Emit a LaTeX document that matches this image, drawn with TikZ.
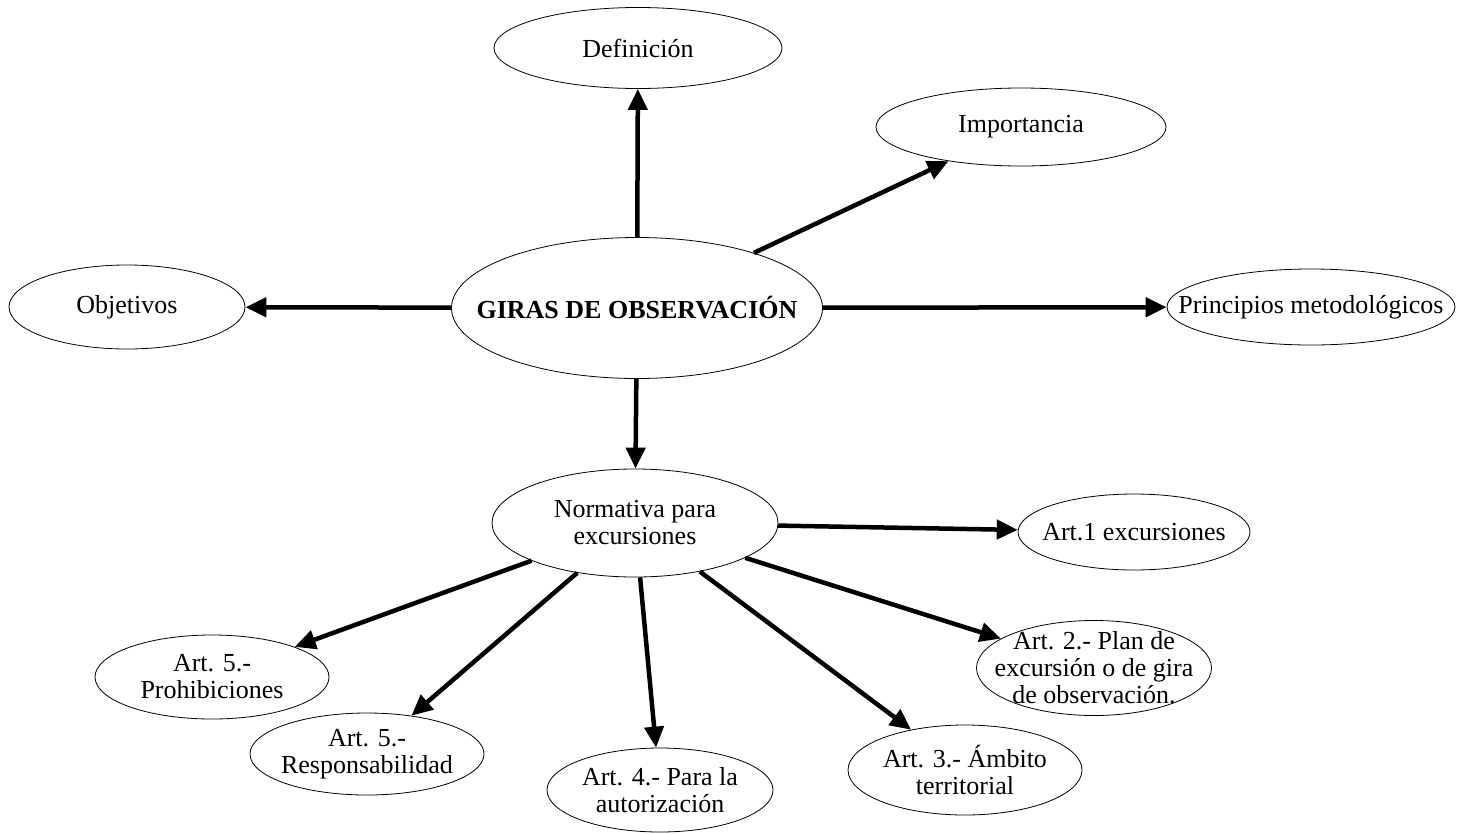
\documentclass[tikz,border=0pt]{standalone}
\usepackage{fontspec}
\setmainfont{Liberation Serif}
\usepackage{tikz}
\usetikzlibrary{shapes, arrows, positioning, arrows.meta}

\begin{document}
\begin{tikzpicture}[x=1pt, y=-1pt,
        elipse/.style={ellipse, draw, line width=0.8pt, inner sep=-300pt, align=center,
            font=\fontsize{26}{27}\selectfont},
        flecha/.style={-{Triangle[length=21pt,width=19pt]}, line width=4.5pt}]
        \useasboundingbox (0,0) rectangle (1458,833);
        % Nodo central y primer nivel
        \node[elipse, minimum width=371pt, minimum height=141pt] (giras) at (637,308) {\textbf{GIRAS DE OBSERVACIÓN}};
        \node[elipse, minimum width=288pt, minimum height=81pt] (def) at (638,48) {Definición};
        \node[elipse, minimum width=290pt, minimum height=78pt] (imp) at (1021,127) {Importancia};
        \node[elipse, minimum width=236pt, minimum height=84pt] (obj) at (127,307) {Objetivos};
        \node[elipse, minimum width=288pt, minimum height=76pt] (prin) at (1311,307) {Principios metodológicos};
        \node[elipse, minimum width=286pt, minimum height=108pt] (norm) at (635,523) {Normativa para\\excursiones};
        % Articulos de la normativa
        \node[elipse, minimum width=232pt, minimum height=76pt] (art1) at (1134,532) {Art.1 excursiones};
        \node[elipse, minimum width=235pt, minimum height=95pt] (art2) at (1094,668) {Art. 2.- Plan de\\excursión o de gira\\de observación.};
        \node[elipse, minimum width=234pt, minimum height=90pt] (art3) at (965,770) {Art. 3.- Ámbito\\territorial};
        \node[elipse, minimum width=226pt, minimum height=84pt] (art4) at (660,790) {Art. 4.- Para la\\autorización};
        \node[elipse, minimum width=234pt, minimum height=82pt] (resp) at (367,754) {Art. 5.-\\Responsabilidad};
        \node[elipse, minimum width=234pt, minimum height=84pt] (proh) at (212,677) {Art. 5.-\\Prohibiciones};
        % Conectores
        \foreach \destino in {def, imp, obj, prin, norm} {
            \draw[flecha] (giras) -- (\destino);
        }
        \foreach \destino in {art1, art2, art3, art4, resp, proh} {
            \draw[flecha] (norm) -- (\destino);
        }
    \end{tikzpicture}
\end{document}
